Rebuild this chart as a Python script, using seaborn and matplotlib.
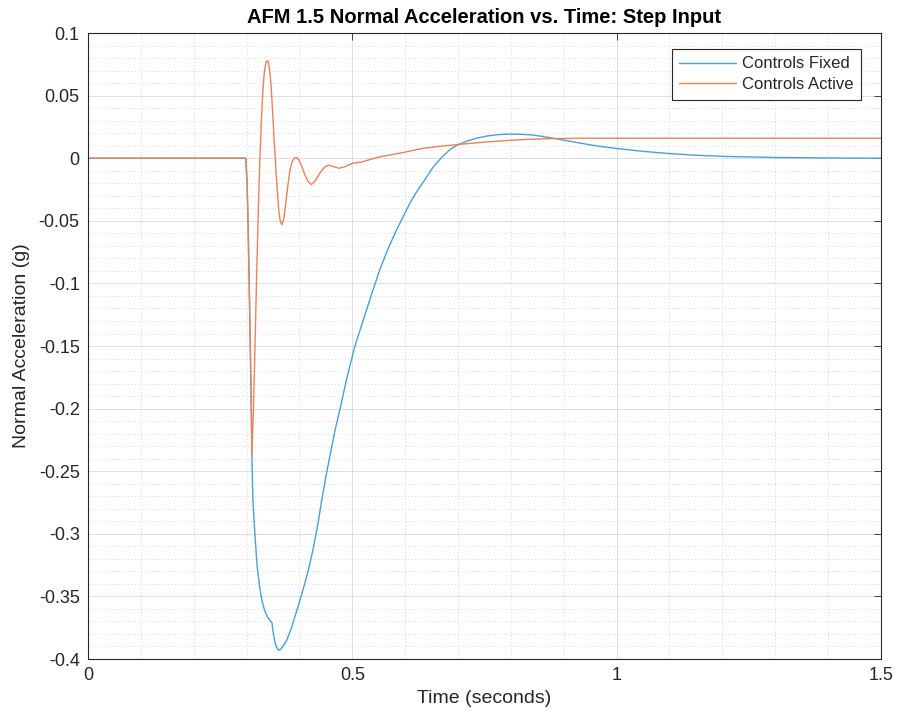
import matplotlib
matplotlib.use("Agg")
import matplotlib.pyplot as plt
from matplotlib.ticker import MultipleLocator
import pandas as pd
import seaborn as sns

# Controls Fixed response
fixed_t = [0.0, 0.2985, 0.301, 0.303, 0.305, 0.307, 0.309, 0.310, 0.312, 0.316,
           0.320, 0.325, 0.329, 0.334, 0.339, 0.344, 0.348, 0.350, 0.354, 0.357,
           0.361, 0.365, 0.370, 0.376, 0.385, 0.393, 0.401, 0.410, 0.418, 0.426,
           0.435, 0.443, 0.452, 0.460, 0.468, 0.477, 0.490, 0.505, 0.521, 0.537,
           0.552, 0.568, 0.584, 0.597, 0.609, 0.623, 0.637, 0.653, 0.670, 0.685,
           0.700, 0.716, 0.735, 0.754, 0.775, 0.798, 0.820, 0.842, 0.860, 0.880,
           0.924, 0.960, 1.000, 1.050, 1.100, 1.150, 1.200, 1.300, 1.400, 1.500]
fixed_g = [0.0, 0.0, -0.020, -0.055, -0.100, -0.150, -0.200, -0.237, -0.273, -0.302,
           -0.326, -0.343, -0.353, -0.361, -0.366, -0.369, -0.371, -0.378, -0.387, -0.391,
           -0.393, -0.392, -0.389, -0.385, -0.375, -0.364, -0.353, -0.340, -0.327, -0.312,
           -0.292, -0.271, -0.250, -0.233, -0.216, -0.200, -0.175, -0.150, -0.129, -0.108,
           -0.089, -0.072, -0.057, -0.046, -0.036, -0.026, -0.0174, -0.0070, 0.0010, 0.0070,
           0.0108, 0.0135, 0.0160, 0.0177, 0.0188, 0.0193, 0.0191, 0.0185, 0.0174, 0.0160,
           0.0126, 0.0100, 0.0078, 0.0055, 0.0037, 0.0024, 0.0015, 0.0006, 0.0002, 0.0]

# Controls Active response
active_t = [0.0, 0.2985, 0.301, 0.303, 0.305, 0.307, 0.309, 0.310, 0.313, 0.316,
            0.319, 0.322, 0.325, 0.328, 0.331, 0.334, 0.337, 0.340, 0.343, 0.346,
            0.349, 0.352, 0.355, 0.358, 0.361, 0.364, 0.367, 0.370, 0.374, 0.378,
            0.382, 0.386, 0.390, 0.395, 0.400, 0.405, 0.410, 0.417, 0.423, 0.430,
            0.440, 0.448, 0.455, 0.465, 0.475, 0.488, 0.500, 0.518, 0.550, 0.590,
            0.628, 0.660, 0.716, 0.760, 0.798, 0.840, 0.880, 0.950, 1.100, 1.500]
active_g = [0.0, 0.0, -0.020, -0.055, -0.100, -0.150, -0.200, -0.237, -0.200, -0.150,
            -0.095, -0.045, -0.003, 0.030, 0.055, 0.070, 0.077, 0.078, 0.073, 0.060,
            0.040, 0.015, -0.005, -0.025, -0.042, -0.051, -0.053, -0.049, -0.037, -0.022,
            -0.010, -0.003, 0.000, 0.0005, -0.002, -0.007, -0.013, -0.019, -0.021, -0.018,
            -0.011, -0.007, -0.0055, -0.0068, -0.008, -0.0065, -0.004, -0.003, 0.001, 0.004,
            0.0075, 0.0093, 0.0116, 0.0132, 0.0143, 0.0152, 0.0157, 0.0160, 0.0160, 0.0160]

series_names = ["Controls Fixed", "Controls Active"]
series_colors = ["#4A9FD8", "#E8825A"]

x_ticks = [0, 0.5, 1, 1.5]
x_tick_labels = ["0", "0.5", "1", "1.5"]
y_ticks = [0.1, 0.05, 0, -0.05, -0.1, -0.15, -0.2, -0.25, -0.3, -0.35, -0.4]
y_tick_labels = ["0.1", "0.05", "0", "-0.05", "-0.1", "-0.15", "-0.2", "-0.25",
                 "-0.3", "-0.35", "-0.4"]

df = pd.concat([
    pd.DataFrame({"time": fixed_t, "accel": fixed_g, "series": series_names[0]}),
    pd.DataFrame({"time": active_t, "accel": active_g, "series": series_names[1]}),
], ignore_index=True)

sns.set_style("white")
plt.rcParams["font.family"] = ["Liberation Sans", "DejaVu Sans"]

edge = "#262626"
fig = plt.figure(figsize=(8.97, 7.15), dpi=100)
ax = fig.add_axes([0.0981, 0.0783, 0.8839, 0.8755])

sns.lineplot(data=df, x="time", y="accel", hue="series", hue_order=series_names,
             palette=series_colors, estimator=None, sort=False, linewidth=1.0, ax=ax)

ax.set_xticks(x_ticks, x_tick_labels)
ax.set_yticks(y_ticks, y_tick_labels)
ax.xaxis.set_minor_locator(MultipleLocator(0.1))
ax.yaxis.set_minor_locator(MultipleLocator(0.01))
ax.set_xlim(0, 1.5)
ax.set_ylim(-0.4, 0.1)

ax.grid(which="major", color="#dedede", linewidth=0.7, linestyle="-")
ax.grid(which="minor", color="#c8c8c8", linewidth=0.6, linestyle=(0, (1, 3)))
ax.set_axisbelow(True)

ax.tick_params(which="major", direction="in", length=5, width=0.6, color=edge,
               labelcolor=edge, labelsize=13, top=True, right=True, pad=6)
ax.tick_params(which="minor", length=0)
for s in ax.spines.values():
    s.set_color(edge)
    s.set_linewidth(0.8)
    s.set_visible(True)

ax.set_xlabel("Time (seconds)", fontsize=14, color=edge, labelpad=4)
ax.set_ylabel("Normal Acceleration (g)", fontsize=14, color=edge, labelpad=6)
ax.set_title("AFM 1.5 Normal Acceleration vs. Time: Step Input", fontsize=14.5,
             fontweight="bold", color="black", pad=7)

leg = ax.legend(loc="upper right", fontsize=12, frameon=True, fancybox=False,
                edgecolor=edge, handlelength=3.4, handletextpad=0.35, borderpad=0.45,
                labelspacing=0.35, bbox_to_anchor=(0.985, 0.988))
leg.get_frame().set_linewidth(0.8)
leg.get_frame().set_facecolor("white")
leg.get_frame().set_alpha(1.0)

fig.savefig("out.png", dpi=100)
